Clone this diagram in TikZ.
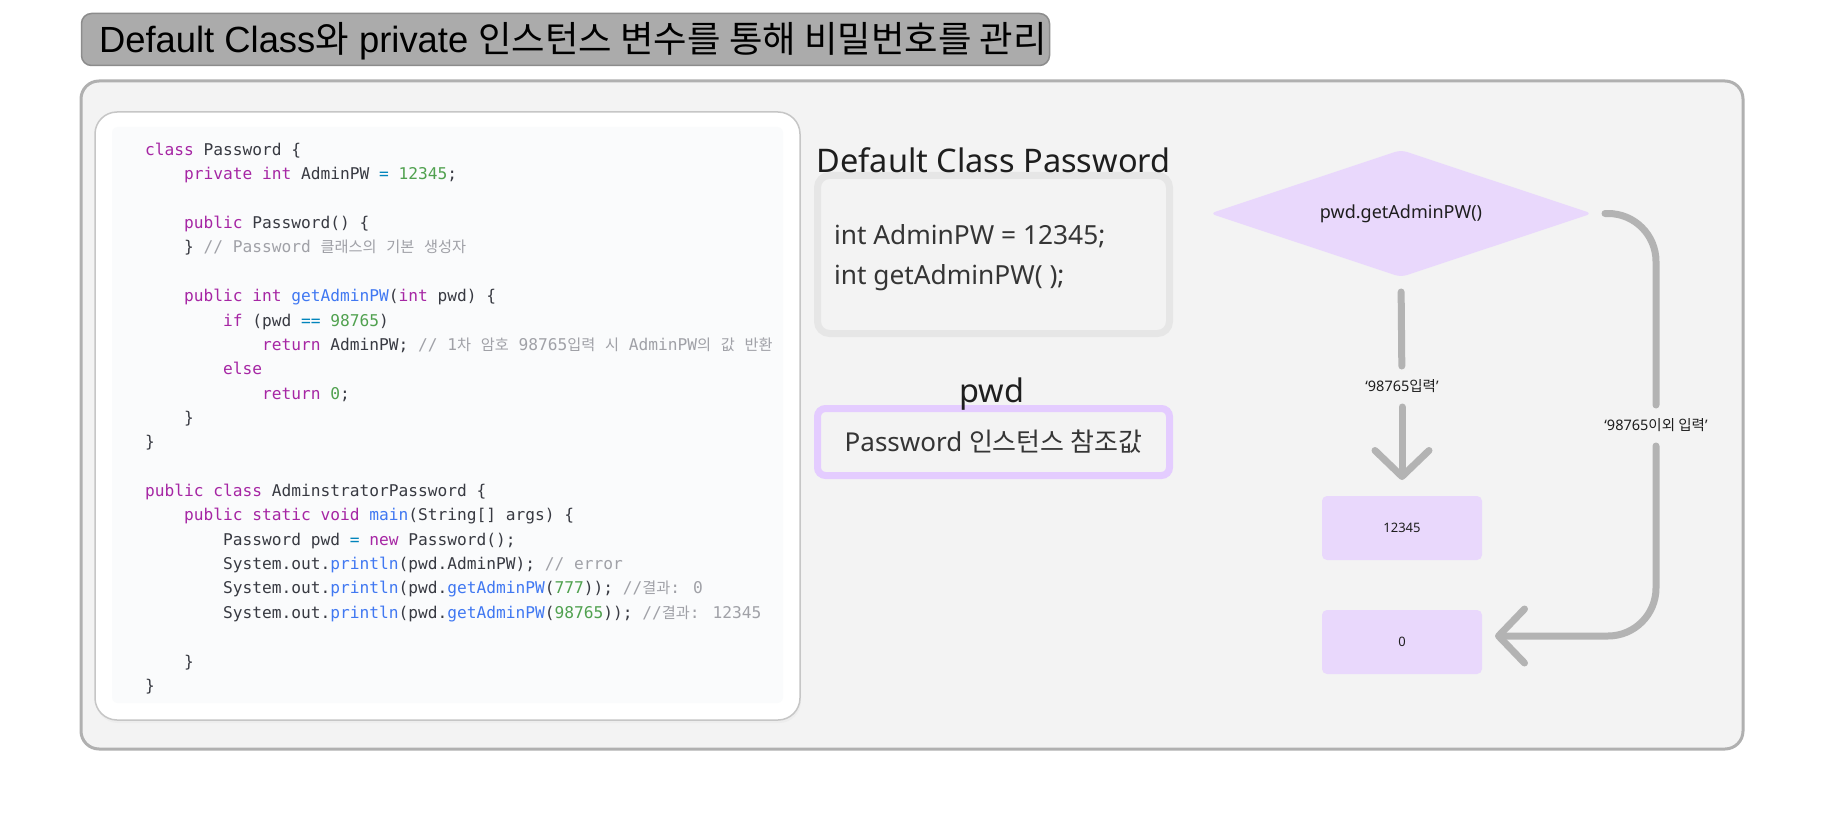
\documentclass[tikz,border=0pt]{standalone}
\usepackage{fontspec}
\setmainfont{Noto Sans}
\newfontfamily\titlefont{Liberation Sans}
\newfontfamily\krfont{Noto Sans CJK KR}
\newfontfamily\krtitlefont[Scale=1.0]{Noto Sans CJK KR}
\newfontfamily\codefont{DejaVu Sans Mono}
\newfontfamily\krcodefont[Scale=0.94]{Noto Sans CJK KR}
\usetikzlibrary{shapes.geometric,arrows.meta}

\definecolor{panelbg}{HTML}{F3F3F3}
\definecolor{panelline}{HTML}{B0B0B0}
\definecolor{titlebg}{HTML}{ABABAB}
\definecolor{titleline}{HTML}{8C8C8C}
\definecolor{cardline}{HTML}{C6C6C6}
\definecolor{codebg}{HTML}{FAFBFC}
\definecolor{boxline}{HTML}{E6E6E6}
\definecolor{lav}{HTML}{E9D8FC}
\definecolor{lavline}{HTML}{E4CCFF}
\definecolor{flow}{HTML}{B3B3B3}
\definecolor{ink}{HTML}{1E1E1E}
\definecolor{codetext}{HTML}{383A42}
\definecolor{codekw}{HTML}{A626A4}
\definecolor{codefn}{HTML}{4078F2}
\definecolor{codenum}{HTML}{50A14F}
\definecolor{codeop}{HTML}{0184BC}
\definecolor{codecom}{HTML}{A0A1A7}

% korean runs
\newcommand{\kr}[1]{{\krfont #1}}
\newcommand{\krt}[1]{{\krtitlefont #1}}
\newcommand{\krc}[1]{{\krcodefont #1}}
% syntax colours
\newcommand{\ckw}[1]{\textcolor{codekw}{#1}}
\newcommand{\cfn}[1]{\textcolor{codefn}{#1}}
\newcommand{\cnum}[1]{\textcolor{codenum}{#1}}
\newcommand{\cop}[1]{\textcolor{codeop}{#1}}
\newcommand{\ccom}[1]{\textcolor{codecom}{#1}}

\def\lh{24.36}
\def\ia{145}
\def\ib{184}
\def\ic{223}
\def\id{262}

\begin{document}
\begin{tikzpicture}[
                x=1pt,y=-1pt,
                every node/.style={inner sep=0pt,outer sep=0pt},
                titlebox/.style={draw=titleline,line width=1.5pt,fill=titlebg,rounded corners=10pt,
                        minimum width=968pt,minimum height=52pt},
                codeline/.style={anchor=base west,text=codetext,font=\codefont\fontsize{16.2}{24}\selectfont},
                heading/.style={text=ink,font=\fontsize{32.5}{38}\selectfont},
                field/.style={text=ink!90,font=\fontsize{26.3}{31}\selectfont},
                classbox/.style={draw=boxline,line width=7pt,fill=panelbg,rounded corners=12pt,
                        minimum width=352pt,minimum height=158pt},
                refbox/.style={draw=lavline,line width=7pt,fill=panelbg,rounded corners=8pt,
                        minimum width=352pt,minimum height=67pt,text=ink!90,font=\fontsize{26}{31}\selectfont},
                decision/.style={diamond,aspect=3,fill=lav,rounded corners=6pt,
                        minimum width=382pt,minimum height=127pt,text=ink,font=\fontsize{18}{22}\selectfont},
                result/.style={rectangle,fill=lav,rounded corners=5pt,minimum width=160pt,minimum height=64pt,
                        text=ink,font=\fontsize{13}{16}\selectfont},
                flowlabel/.style={minimum height=41pt,text=ink,font=\fontsize{14.5}{17}\selectfont},
                flowline/.style={draw=flow,line width=7pt,line cap=round},
                flowtip/.style={-{Straight Barb[length=26pt,width=54pt,round]}}
            ]

            \useasboundingbox (0,0) rectangle (1824,832);
            \fill[white] (0,0) rectangle (1824,832);

            % title
            \node[titlebox] (titlebox) at (565.5,39.5) {};
            \node[anchor=base west,font=\titlefont\fontsize{36.4}{42}\selectfont] (titletext) at (99,52.5)
                {Default Class\krt{와} private \krt{인스턴스 변수를 통해 비밀번호를 관리}};

            % panel and code card
            \draw[draw=panelline,line width=3pt,fill=panelbg,rounded corners=18pt] (81,81) rectangle (1743,749);
            \fill[black!7,rounded corners=22pt] (96,115) rectangle (801,723);
            \draw[draw=cardline,line width=1.5pt,fill=white,rounded corners=22pt] (95,112) rectangle (800,720);
            \fill[codebg,rounded corners=6pt] (112,127) rectangle (783,703);

            % code
            \node[codeline] (code1) at (\ia,155.5) {\ckw{class} Password \{};
            \node[codeline] (code2) at (\ib,155.5+1*\lh) {\ckw{private int} AdminPW \cop{=} \cnum{12345};};
            \node[codeline] (code4) at (\ib,155.5+3*\lh) {\ckw{public} Password() \{};
            \node[codeline] (code5) at (\ib,155.5+4*\lh) {\} \ccom{// Password \krc{클래스의} \krc{기본} \krc{생성자}}};
            \node[codeline] (code7) at (\ib,155.5+6*\lh) {\ckw{public int} \cfn{getAdminPW}(\ckw{int} pwd) \{};
            \node[codeline] (code8) at (\ic,155.5+7*\lh) {\ckw{if} (pwd \cop{==} \cnum{98765})};
            \node[codeline] (code9) at (\id,155.5+8*\lh) {\ckw{return} AdminPW; \ccom{// 1\krc{차} \krc{암호} 98765\krc{입력} \krc{시} AdminPW\krc{의} \krc{값} \krc{반환}}};
            \node[codeline] (code10) at (\ic,155.5+9*\lh) {\ckw{else}};
            \node[codeline] (code11) at (\id,155.5+10*\lh) {\ckw{return} \cnum{0};};
            \node[codeline] (code12) at (\ib,155.5+11*\lh) {\}};
            \node[codeline] (code13) at (\ia,155.5+12*\lh) {\}};
            \node[codeline] (code15) at (\ia,155.5+14*\lh) {\ckw{public class} AdminstratorPassword \{};
            \node[codeline] (code16) at (\ib,155.5+15*\lh) {\ckw{public static void} \cfn{main}(String[] args) \{};
            \node[codeline] (code17) at (\ic,155.5+16*\lh) {Password pwd \cop{=} \ckw{new} Password();};
            \node[codeline] (code18) at (\ic,155.5+17*\lh) {System.out.\cfn{println}(pwd.AdminPW); \ccom{// error}};
            \node[codeline] (code19) at (\ic,155.5+18*\lh) {System.out.\cfn{println}(pwd.\cfn{getAdminPW}(\cnum{777})); \ccom{//\krc{결과}: 0}};
            \node[codeline] (code20) at (\ic,155.5+19*\lh) {System.out.\cfn{println}(pwd.\cfn{getAdminPW}(\cnum{98765})); \ccom{//\krc{결과}: 12345}};
            \node[codeline] (code22) at (\ib,155.5+21*\lh) {\}};
            \node[codeline] (code23) at (\ia,155.5+22*\lh) {\}};

            % class and reference
            \node[classbox] (classbox) at (993.5,254.5) {};
            \node[heading,anchor=base] (classname) at ([yshift=2.5pt]classbox.north) {Default Class Password};
            \node[field,anchor=base west] (field1) at (834,244) {int AdminPW = 12345;};
            \node[field,anchor=base west] (field2) at (834,284) {int getAdminPW( );};
            \node[refbox] (refbox) at (993.5,442) {Password \kr{인스턴스 참조값}};
            \node[heading,anchor=base] (refname) at (992,402) {pwd};

            % flow
            \node[decision] (decision) at (1401,213.5) {pwd.getAdminPW()};
            \node[flowlabel] (lbl1) at (1402,386.5) {‘98765\kr{입력}’};
            \node[flowlabel] (lbl2) at (1656,425.5) {‘98765\kr{이외 입력}’};
            \node[result] (res1) at (1402,528) {12345};
            \node[result] (res2) at (1402,642) {0};

            \draw[flowline,shorten <=15pt] (decision.south) -- (lbl1);
            \draw[flowline,flowtip,shorten >=16pt] (lbl1) -- (res1);
            \draw[flowline,rounded corners=48pt,shorten <=13pt] (decision.east) -| (lbl2);
            \draw[flowline,flowtip,rounded corners=48pt,shorten >=13pt] (lbl2) |- ([yshift=6pt]res2.east);

        \end{tikzpicture}
\end{document}
